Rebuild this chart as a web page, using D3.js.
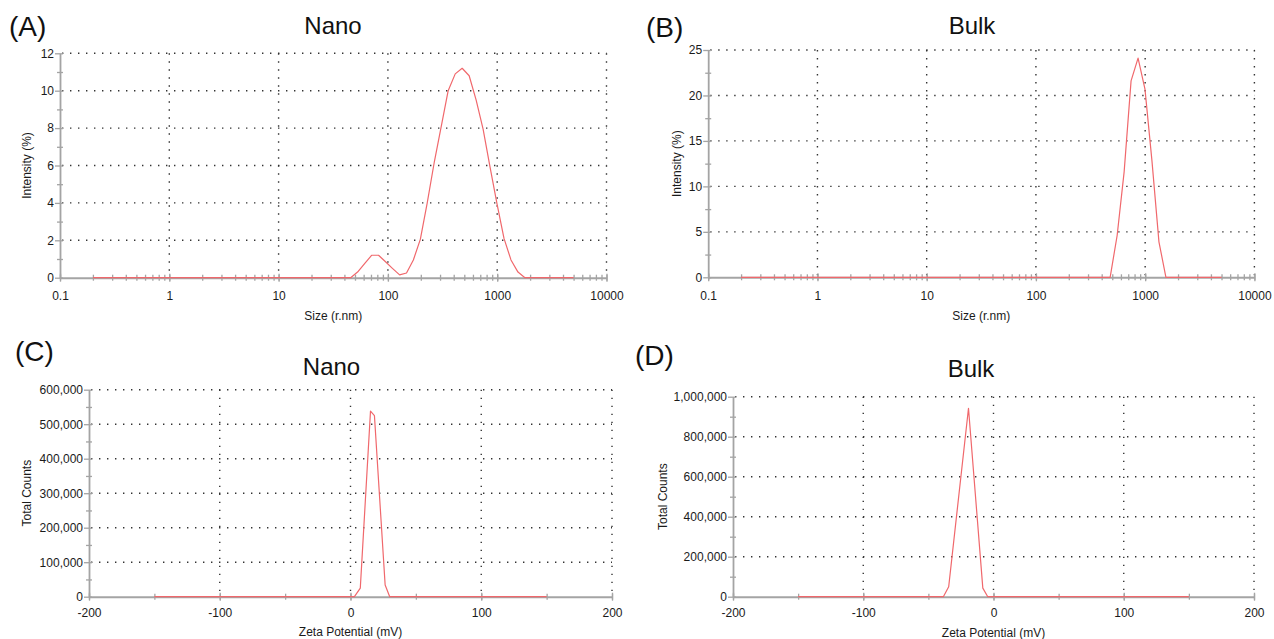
<!DOCTYPE html>
<html>
<head>
<meta charset="utf-8">
<script src="https://cdn.jsdelivr.net/npm/d3@7"></script>
<style>
  body { margin: 0; background: #fff; }
  svg { display: block; font-family: "Liberation Sans", Arial, sans-serif; }
</style>
</head>
<body>
<svg id="chart" width="1274" height="639"></svg>
<script>
// ---- Size distribution by intensity (radius, nm) ----
const sizeNano = [0.2, 45.6, 52.8, 61.2, 70.9, 82.1, 95.1, 110, 128, 148, 171, 198, 229, 266, 308, 356, 413, 478, 554, 642, 743, 861, 996, 1154, 1337, 1549, 1794, 5000];
const intensityNano = [0, 0, 0.3, 0.75, 1.2, 1.2, 0.85, 0.5, 0.15, 0.25, 0.95, 2.05, 4.0, 6.2, 8.1, 10.0, 10.9, 11.2, 10.8, 9.5, 7.95, 5.9, 3.95, 2.1, 0.95, 0.3, 0, 0];

const sizeBulk = [0.2, 478, 554, 642, 743, 861, 996, 1154, 1337, 1549, 5000];
const intensityBulk = [0, 0, 4.6, 11.6, 21.6, 24.1, 20.7, 12.8, 3.9, 0, 0];

// ---- Zeta potential distribution ----
const zetaNano = [-150, 3, 7.5, 15.3, 18.3, 26.5, 30, 150];
const countsNano = [0, 0, 25000, 538000, 525000, 34000, 0, 0];

const zetaBulk = [-150, -38.5, -34.4, -19.2, -8.2, -4.4, 150];
const countsBulk = [0, 0, 50000, 942000, 43000, 0, 0];

// ---- Tick values and labels ----
const sizeTicks = [0.1, 1, 10, 100, 1000, 10000];
const sizeTickLabels = ["0.1", "1", "10", "100", "1000", "10000"];
const intensityNanoTicks = [0, 2, 4, 6, 8, 10, 12];
const intensityBulkTicks = [0, 5, 10, 15, 20, 25];
const zetaTicks = [-200, -100, 0, 100, 200];
const zetaTickLabels = ["-200", "-100", "0", "100", "200"];
const countsNanoTicks = [0, 100000, 200000, 300000, 400000, 500000, 600000];
const countsBulkTicks = [0, 200000, 400000, 600000, 800000, 1000000];

const svg = d3.select("#chart");
const LINE_COLOR = "#f0686c";
const AXIS_COLOR = "#a4a4a4";
const GRID_COLOR = "#333";
const TEXT_COLOR = "#1a1a1a";

function drawPanel(p) {
  const g = svg.append("g");
  const x = (p.log ? d3.scaleLog() : d3.scaleLinear()).domain(p.xDomain).range([p.x0, p.x1]);
  const y = d3.scaleLinear().domain(p.yDomain).range([p.y1, p.y0]);

  // dotted grid
  const grid = g.append("g")
    .attr("stroke", GRID_COLOR).attr("stroke-width", 1.4)
    .attr("stroke-dasharray", "1.4,6.6").attr("fill", "none");
  grid.selectAll("line.h").data(p.yTicks.slice(1)).join("line")
    .attr("class", "h")
    .attr("x1", p.x0 + 2).attr("x2", p.x1)
    .attr("y1", d => y(d)).attr("y2", d => y(d));
  grid.selectAll("line.v").data(p.xTicks.slice(1)).join("line")
    .attr("class", "v")
    .attr("x1", d => x(d)).attr("x2", d => x(d))
    .attr("y1", p.y0).attr("y2", p.y1 - 2);

  // minor ticks
  const xMinor = p.log ? x.ticks() : x.ticks(8);
  const yMinor = d3.pairs(p.yTicks).map(([a, b]) => (a + b) / 2);

  const xAxis = d3.axisBottom(x).tickValues(xMinor).tickFormat("").tickSize(3).tickSizeOuter(0);
  const gxm = g.append("g").attr("transform", `translate(0,${p.y1})`).call(xAxis);
  gxm.select(".domain").remove();
  gxm.selectAll(".tick line").attr("y1", -3).attr("y2", 3).attr("stroke", AXIS_COLOR).attr("stroke-width", 1.3);

  const yAxisMinor = d3.axisLeft(y).tickValues(yMinor).tickFormat("").tickSize(3).tickSizeOuter(0);
  const gym = g.append("g").attr("transform", `translate(${p.x0},0)`).call(yAxisMinor);
  gym.select(".domain").remove();
  gym.selectAll(".tick line").attr("x1", 3).attr("x2", -3).attr("stroke", AXIS_COLOR).attr("stroke-width", 1.3);

  // major axes with labels
  const bottom = d3.axisBottom(x).tickValues(p.xTicks)
    .tickFormat((d, i) => p.xLabels[i]).tickSize(4).tickPadding(10).tickSizeOuter(0);
  const gx = g.append("g").attr("transform", `translate(0,${p.y1})`).call(bottom);
  gx.select(".domain").attr("stroke", AXIS_COLOR).attr("stroke-width", 2);
  gx.selectAll(".tick line").attr("y1", -4).attr("y2", 4).attr("stroke", AXIS_COLOR).attr("stroke-width", 1.3);
  gx.selectAll(".tick text").attr("font-size", 12).attr("fill", TEXT_COLOR)
    .attr("font-family", "Liberation Sans, Arial, sans-serif").attr("y", p.xLabelOffset);

  const left = d3.axisLeft(y).tickValues(p.yTicks)
    .tickFormat(p.yFormat).tickSize(4).tickPadding(2).tickSizeOuter(0);
  const gy = g.append("g").attr("transform", `translate(${p.x0},0)`).call(left);
  gy.select(".domain").attr("stroke", AXIS_COLOR).attr("stroke-width", 1.8);
  gy.selectAll(".tick line").attr("x1", 3).attr("x2", -5).attr("stroke", AXIS_COLOR).attr("stroke-width", 1.3);
  gy.selectAll(".tick text").attr("font-size", 12).attr("fill", TEXT_COLOR)
    .attr("font-family", "Liberation Sans, Arial, sans-serif").attr("x", -6);

  // distribution curve
  const pts = p.xs.map((v, i) => [v, p.ys[i]]);
  g.append("path").datum(pts)
    .attr("fill", "none").attr("stroke", LINE_COLOR).attr("stroke-width", 1.2)
    .attr("stroke-linejoin", "round")
    .attr("d", d3.line().x(d => x(d[0])).y(d => y(d[1])));

  // texts
  g.append("text").attr("x", p.letterX).attr("y", p.letterY)
    .attr("font-size", 28).attr("fill", "#111").text(p.letter);
  g.append("text").attr("x", p.titleX).attr("y", p.titleY)
    .attr("text-anchor", "middle").attr("font-size", 24).attr("fill", "#111").text(p.title);
  g.append("text").attr("x", (p.x0 + p.x1) / 2).attr("y", p.xTitleY)
    .attr("text-anchor", "middle").attr("font-size", 12).attr("fill", TEXT_COLOR).text(p.xTitle);
  g.append("text")
    .attr("transform", `translate(${p.yTitleX},${(p.y0 + p.y1) / 2}) rotate(-90)`)
    .attr("text-anchor", "middle").attr("font-size", 12).attr("fill", TEXT_COLOR).text(p.yTitle);
}

const commaFmt = d3.format(",");

drawPanel({
  log: true, xDomain: [0.1, 10000], yDomain: [0, 12],
  x0: 60, x1: 606.5, y0: 53.3, y1: 277.7,
  xTicks: sizeTicks, xLabels: sizeTickLabels, yTicks: intensityNanoTicks, yFormat: d => String(d),
  xs: sizeNano, ys: intensityNano, xLabelOffset: 14,
  letter: "(A)", letterX: 9, letterY: 35.5,
  title: "Nano", titleX: 333, titleY: 33.5,
  xTitle: "Size (r.nm)", xTitleY: 320, yTitle: "Intensity (%)", yTitleX: 31
});

drawPanel({
  log: true, xDomain: [0.1, 10000], yDomain: [0, 25],
  x0: 708.2, x1: 1254.4, y0: 50, y1: 277.3,
  xTicks: sizeTicks, xLabels: sizeTickLabels, yTicks: intensityBulkTicks, yFormat: d => String(d),
  xs: sizeBulk, ys: intensityBulk, xLabelOffset: 14,
  letter: "(B)", letterX: 646, letterY: 37,
  title: "Bulk", titleX: 972, titleY: 33.5,
  xTitle: "Size (r.nm)", xTitleY: 320, yTitle: "Intensity (%)", yTitleX: 681
});

drawPanel({
  log: false, xDomain: [-200, 200], yDomain: [0, 600000],
  x0: 89, x1: 612, y0: 389.7, y1: 596.7,
  xTicks: zetaTicks, xLabels: zetaTickLabels, yTicks: countsNanoTicks, yFormat: commaFmt,
  xs: zetaNano, ys: countsNano, xLabelOffset: 11.5,
  letter: "(C)", letterX: 15, letterY: 361,
  title: "Nano", titleX: 331.5, titleY: 375.3,
  xTitle: "Zeta Potential (mV)", xTitleY: 636, yTitle: "Total Counts", yTitleX: 31
});

drawPanel({
  log: false, xDomain: [-200, 200], yDomain: [0, 1000000],
  x0: 733, x1: 1254, y0: 396.7, y1: 596.7,
  xTicks: zetaTicks, xLabels: zetaTickLabels, yTicks: countsBulkTicks, yFormat: commaFmt,
  xs: zetaBulk, ys: countsBulk, xLabelOffset: 11.5,
  letter: "(D)", letterX: 635, letterY: 365,
  title: "Bulk", titleX: 971, titleY: 376.6,
  xTitle: "Zeta Potential (mV)", xTitleY: 637, yTitle: "Total Counts", yTitleX: 667
});
</script>
</body>
</html>
